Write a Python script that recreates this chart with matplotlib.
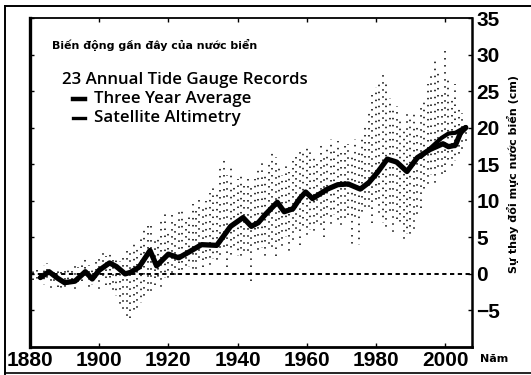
import numpy as np
import matplotlib
matplotlib.use("Agg")
import matplotlib.pyplot as plt
from matplotlib.lines import Line2D

# three year average (year, cm)
avg_years = [1883, 1885.5, 1888, 1890, 1893, 1896, 1898, 1900, 1903, 1905,
             1907.5, 1909, 1911.5, 1914.7, 1916.6, 1920, 1923, 1926, 1929.6,
             1934, 1936, 1938, 1941.6, 1944, 1946, 1948, 1951.5, 1953.5,
             1956, 1958, 1959.7, 1961.7, 1966, 1969, 1972, 1975.5, 1978,
             1980.5, 1983.3, 1986, 1989, 1992, 1995.6, 1999.4, 2001, 2003,
             2004.5, 2006]
avg_vals = [-0.5, 0.3, -0.6, -1.2, -1.0, 0.3, -0.7, 0.5, 1.5, 1.0,
            0.0, 0.2, 0.9, 3.2, 1.1, 2.7, 2.2, 3.0, 4.0,
            3.9, 5.2, 6.5, 7.7, 6.5, 7.0, 8.1, 9.8, 8.5,
            8.9, 10.3, 11.2, 10.3, 11.6, 12.2, 12.3, 11.6, 12.5,
            13.9, 15.7, 15.3, 14.0, 15.9, 17.0, 17.8, 17.4, 17.6,
            19.3, 20.0]

# satellite altimetry
sat_years = [1993, 1996, 1999, 2001, 2003, 2006]
sat_vals = [16.0, 17.3, 18.6, 19.2, 19.3, 20.1]

# spread of the 23 tide gauge records per year (low / high, cm)
gauge_years = list(range(1881, 2007))
gauge_high = [0.5, 0.8, 0.6, 1.2, 1.5, 0.9, 0.7, 1.0, 0.6, 0.5,
              0.8, 1.0, 1.4, 0.9, 1.6, 2.0, 1.2, 1.1, 1.8, 2.4,
              2.8, 2.5, 3.2, 2.6, 2.0, 1.8, 2.2, 3.5, 3.0, 4.5,
              4.0, 5.5, 6.0, 7.0, 6.5, 5.0, 4.8, 7.5, 8.5, 6.0,
              8.0, 7.0, 8.8, 9.0, 7.5, 8.0, 9.5, 9.0, 10.5, 9.5,
              10.0, 11.0, 12.5, 11.0, 14.5, 16.0, 13.5, 15.0, 12.0, 13.0,
              14.0, 12.5, 13.5, 12.0, 13.0, 14.5, 15.5, 14.0, 15.0, 16.5,
              16.0, 14.5, 13.5, 15.0, 14.0, 15.5, 16.0, 17.0, 16.5, 17.5,
              17.0, 16.0, 15.5, 18.0, 16.5, 17.5, 18.5, 17.0, 18.2, 16.5,
              17.5, 17.8, 16.0, 18.5, 17.0, 19.0, 20.5, 22.0, 24.5, 25.5,
              26.0, 27.5, 26.0, 24.0, 22.5, 23.0, 21.0, 20.0, 22.0, 21.5,
              22.0, 20.5, 23.0, 24.0, 26.0, 27.0, 29.5, 28.0, 25.0, 31.0,
              27.0, 24.0, 26.0, 23.0, 22.0, 21.0]
gauge_low = [-0.8, -1.2, -0.5, -1.5, -1.0, -2.0, -1.6, -1.8, -2.5, -2.0,
             -1.5, -1.2, -2.2, -1.8, -1.0, -0.8, -2.0, -1.5, -1.0, -2.2,
             -1.0, -1.5, -2.0, -2.5, -3.0, -4.5, -5.0, -6.5, -6.0, -5.5,
             -5.0, -4.0, -3.5, -2.5, -3.0, -1.5, -1.0, -2.0, -0.5, -1.0,
             0.0, -0.8, 0.5, 0.0, 0.8, 1.0, 0.2, 0.5, 1.5, 1.0,
             1.5, 1.0, 2.0, 1.5, 2.5, 3.0, 1.0, 2.0, 3.5, 2.5,
             2.0, 3.0, 2.5, -1.0, 3.5, 3.0, 3.5, 2.0, 4.0, 3.0,
             2.5, 4.0, 3.5, 5.0, 2.7, 4.5, 5.5, 4.0, 6.0, 5.0,
             6.0, 5.5, 7.0, 6.0, 5.0, 7.5, 6.5, 8.0, 7.0, 6.5,
             7.0, 8.0, 3.5, 7.5, 4.0, 8.0, 9.0, 8.5, 7.0, 9.5,
             8.0, 7.0, 6.0, 8.5, 5.0, 7.5, 6.5, 4.5, 5.5, 5.0,
             6.0, 7.5, 9.0, 11.0, 12.0, 13.5, 12.0, 14.5, 13.0, 14.0,
             15.0, 14.5, 15.5, 16.0, 17.0, 17.5]

x_ticks = [1880, 1900, 1920, 1940, 1960, 1980, 2000]
y_ticks = [-5, 0, 5, 10, 15, 20, 25, 30, 35]

W, H = 531, 375
fig = plt.figure(figsize=(W / 100, H / 100), dpi=100)
ax = fig.add_axes([30 / W, 1 - 347 / H, 442 / W, 329 / H])

# dotted spans, dash offset varied so the dots don't line up in rows
offsets = [0, 1.7, 3.1, 0.8, 2.4, 3.8, 1.2]
styles = [(offsets[i % len(offsets)], (1.0, 3.6)) for i in range(len(gauge_years))]
ax.vlines(gauge_years, gauge_low, gauge_high, colors="black", lw=1.1,
          linestyles=styles, zorder=1)
ax.axhline(0, color="black", lw=1.4, linestyle=(0, (2.2, 1.8)), zorder=2)
ax.plot(avg_years, avg_vals, color="black", lw=3.8, solid_capstyle="round",
        solid_joinstyle="round", zorder=3)
ax.plot(sat_years, sat_vals, color="black", lw=3.0, solid_capstyle="round",
        zorder=4)

ax.set_xlim(1880, 2007.8)
ax.set_ylim(-10, 35)
ax.set_xticks(x_ticks)
ax.set_yticks(y_ticks)
ax.yaxis.tick_right()
ax.tick_params(axis="both", direction="in", length=3, width=1,
               top=True, bottom=True, left=True, right=True,
               labelleft=False, labelright=True, labelsize=15, pad=3)
for lab in ax.get_xticklabels() + ax.get_yticklabels():
    lab.set_fontfamily("Liberation Sans")
    lab.set_fontweight("bold")
for side, w in [("left", 2.4), ("bottom", 2.0), ("right", 1.8), ("top", 1.3)]:
    ax.spines[side].set_linewidth(w)

# texts
fig.text(52 / W, 1 - 45 / H, "Biến động gần đây của nước biển", fontsize=7.9,
         fontweight="bold", va="center", ha="left")
fig.text(62 / W, 1 - 80 / H, "23 Annual Tide Gauge Records", fontsize=12.2,
         family="Open Sans", fontweight="semibold", va="center", ha="left")
fig.text(94 / W, 1 - 99 / H, "Three Year Average", fontsize=12.2,
         family="Open Sans", fontweight="semibold", va="center", ha="left")
fig.text(94 / W, 1 - 118 / H, "Satellite Altimetry", fontsize=12.2,
         family="Open Sans", fontweight="semibold", va="center", ha="left")
fig.add_artist(Line2D([73 / W, 85 / W], [1 - 99 / H, 1 - 99 / H],
                      color="black", lw=3.2))
fig.add_artist(Line2D([73 / W, 85 / W], [1 - 118 / H, 1 - 118 / H],
                      color="black", lw=2.4))

fig.text(513 / W, 1 - 174 / H, "Sự thay đổi mực nước biển (cm)", fontsize=8,
         fontweight="bold", rotation=90, va="center", ha="center")
fig.text(480 / W, 1 - 359 / H, "Năm", fontsize=8, fontweight="bold",
         va="center", ha="left")

# outer frame of the scanned figure
fig.add_artist(Line2D([5 / W, 5 / W], [1 - 6 / H, 1 - 374 / H], color="black", lw=1.4))
fig.add_artist(Line2D([5 / W, 1], [1 - 6 / H, 1 - 6 / H], color="black", lw=1.4))
fig.add_artist(Line2D([5 / W, 1], [1 - 373 / H, 1 - 373 / H], color="black", lw=1.2))

fig.savefig("out.png", dpi=100)
